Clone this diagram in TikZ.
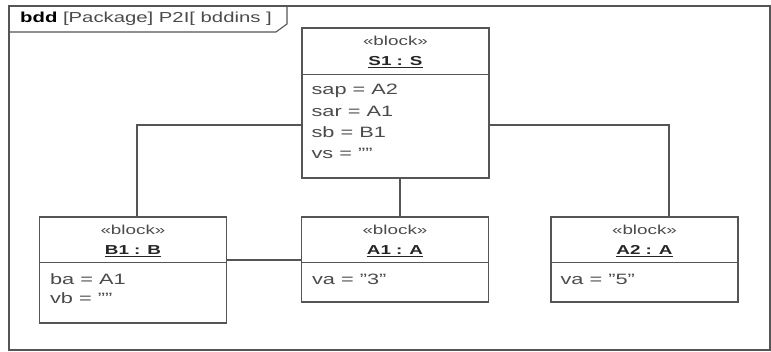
\documentclass[tikz,border=0pt]{standalone}
\usepackage{fontspec}
\setmainfont{Liberation Sans}
\usetikzlibrary{positioning, calc}
\definecolor{bddline}{RGB}{85, 85, 85}
\definecolor{bddtext}{RGB}{75, 75, 75}
\newcommand{\wtext}[1]{\scalebox{1.45}[1]{#1}}
\tikzset{
    blockbox/.style={rectangle, draw=bddline, line width=1.3pt, minimum width=187pt, inner sep=0pt},
    stereo/.style={font=\fontsize{13}{15}\selectfont, text=bddtext, inner sep=0pt},
    instname/.style={font=\fontsize{13}{15}\selectfont\bfseries, text=black!85, inner sep=0pt},
    attr/.style={font=\fontsize{15}{18}\selectfont, text=bddtext, inner sep=0pt, anchor=west},
    compline/.style={draw=bddline, line width=1.1pt},
    link/.style={draw=bddline, line width=1.1pt}
}

\begin{document}
\begin{tikzpicture}[x=1pt, y=1pt]
    \useasboundingbox (0,0) rectangle (771,352);

    % Diagram frame with its name tab
    \draw[bddline, line width=1.3pt] (9,2) rectangle (770,346);
    \draw[bddline, line width=1.1pt] (9,320) -- (276,320) -- (287,328) -- (287,346);
    \node[anchor=west, font=\fontsize{14.5}{18}\selectfont, text=bddtext, inner sep=0pt] (title) at (20,333)
        {\scalebox{1.4}[1]{\textcolor{black}{\textbf{bdd}} [Package] P2I[ bddins ]}};

    % The block instances
    \node[blockbox, minimum height=150pt] (S1) at (395.5,249) {};
    \node[blockbox, minimum height=106pt] (B1) at (133,82) {};
    \node[blockbox, minimum height=85pt] (A1) at (395,92.5) {};
    \node[blockbox, minimum height=85pt] (A2) at (644.5,92.5) {};

    % Compartment lines
    \draw[compline] ($(S1.north west)+(0,-47)$) -- ($(S1.north east)+(0,-47)$);
    \draw[compline] ($(B1.north west)+(0,-46)$) -- ($(B1.north east)+(0,-46)$);
    \draw[compline] ($(A1.north west)+(0,-46)$) -- ($(A1.north east)+(0,-46)$);
    \draw[compline] ($(A2.north west)+(0,-46)$) -- ($(A2.north east)+(0,-46)$);

    % S1 : S
    \node[stereo] (S1st) at ($(S1.north)+(0,-14)$) {\wtext{«block»}};
    \node[instname] (S1nm) at ($(S1.north)+(0,-35)$) {\wtext{\underline{S1 : S}}};
    \node[attr] (S1sap) at ($(S1.north west)+(10,-63)$) {\wtext{sap = A2}};
    \node[attr] (S1sar) at ($(S1.north west)+(10,-84)$) {\wtext{sar = A1}};
    \node[attr] (S1sb) at ($(S1.north west)+(10,-105)$) {\wtext{sb = B1}};
    \node[attr] (S1vs) at ($(S1.north west)+(10,-126)$) {\wtext{vs = ""}};

    % B1 : B
    \node[stereo] (B1st) at ($(B1.north)+(0,-14)$) {\wtext{«block»}};
    \node[instname] (B1nm) at ($(B1.north)+(0,-35)$) {\wtext{\underline{B1 : B}}};
    \node[attr] (B1ba) at ($(B1.north west)+(11,-63)$) {\wtext{ba = A1}};
    \node[attr] (B1vb) at ($(B1.north west)+(11,-82)$) {\wtext{vb = ""}};

    % A1 : A
    \node[stereo] (A1st) at ($(A1.north)+(0,-14)$) {\wtext{«block»}};
    \node[instname] (A1nm) at ($(A1.north)+(0,-35)$) {\wtext{\underline{A1 : A}}};
    \node[attr] (A1va) at ($(A1.north west)+(11,-63)$) {\wtext{va = "3"}};

    % A2 : A
    \node[stereo] (A2st) at ($(A2.north)+(0,-14)$) {\wtext{«block»}};
    \node[instname] (A2nm) at ($(A2.north)+(0,-35)$) {\wtext{\underline{A2 : A}}};
    \node[attr] (A2va) at ($(A2.north west)+(10,-63)$) {\wtext{va = "5"}};

    % Connectors
    \draw[link] ($(S1.west)+(0,-22)$) -| ($(B1.north)+(4,0)$);
    \draw[link] ($(S1.east)+(0,-22)$) -| ($(A2.north)+(24.5,0)$);
    \draw[link] ($(S1.south)+(4.5,0)$) -- ($(A1.north)+(5,0)$);
    \draw[link] ($(B1.east |- A1.west)+(0,-0.5)$) -- ($(A1.west)+(0,-0.5)$);
\end{tikzpicture}
\end{document}
